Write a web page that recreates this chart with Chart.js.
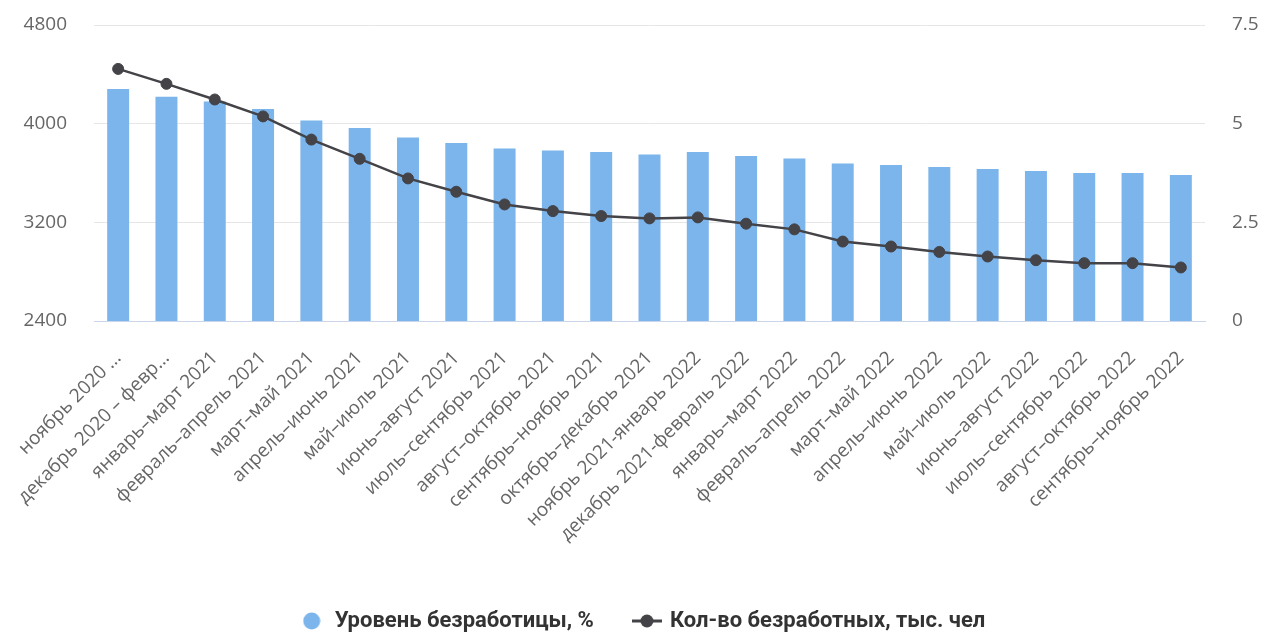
<!DOCTYPE html>
<html lang="ru">
<head>
<meta charset="utf-8">
<script src="https://cdn.jsdelivr.net/npm/chart.js@4.4.1/dist/chart.umd.min.js"></script>
<style>
    html, body { margin: 0; padding: 0; background: #fff; }
    #wrap { width: 1265px; height: 634px; position: relative; }
</style>
</head>
<body>
<div id="wrap"><canvas id="unemploymentChart" width="1265" height="634"></canvas></div>
<script>
// Безработица: уровень (%) и численность (тыс. чел), скользящие 3 месяца

const periods = [
    'ноябрь 2020 …',
    'декабрь 2020 – февр…',
    'январь–март 2021',
    'февраль–апрель 2021',
    'март–май 2021',
    'апрель–июнь 2021',
    'май–июль 2021',
    'июнь–август 2021',
    'июль–сентябрь 2021',
    'август–октябрь 2021',
    'сентябрь–ноябрь 2021',
    'октябрь–декабрь 2021',
    'ноябрь 2021-январь 2022',
    'декабрь 2021-февраль 2022',
    'январь–март 2022',
    'февраль–апрель 2022',
    'март–май 2022',
    'апрель–июнь 2022',
    'май–июль 2022',
    'июнь–август 2022',
    'июль–сентябрь 2022',
    'август–октябрь 2022',
    'сентябрь–ноябрь 2022',
];

const ratePct = [
    5.88, 5.68, 5.56, 5.37, 5.08, 4.89, 4.65, 4.51, 4.37, 4.32, 4.28, 4.22,
    4.28, 4.18, 4.12, 3.99, 3.95, 3.90, 3.85, 3.80, 3.75, 3.75, 3.70,
];

const unemployedK = [
    4444, 4323, 4196, 4059, 3871, 3715, 3556, 3448, 3345, 3291, 3251, 3232,
    3240, 3189, 3143, 3044, 3004, 2960, 2923, 2893, 2869, 2869, 2834,
];

const leftTicks  = [2400, 3200, 4000, 4800];
const rightTicks = [0, 2.5, 5, 7.5];

const COLORS = {
    bar:   '#7cb5ec',
    line:  '#434348',
    grid:  '#e6e6e6',
    axis:  '#ccd6eb',
    label: '#666666',
    legend:'#333333',
};

const FONT = '"Open Sans", "Noto Sans", sans-serif';
const LEGEND_FONT = 'Roboto, "Noto Sans", sans-serif';

// legend markers: circle for the bars, line + dot for the series line
function circleMarker() {
    const c = document.createElement('canvas');
    c.width = 18; c.height = 18;
    const g = c.getContext('2d');
    g.fillStyle = COLORS.bar;
    g.beginPath();
    g.arc(9, 9, 8.5, 0, Math.PI * 2);
    g.fill();
    return c;
}

function lineMarker() {
    const c = document.createElement('canvas');
    c.width = 30; c.height = 14;
    const g = c.getContext('2d');
    g.strokeStyle = COLORS.line;
    g.lineWidth = 3;
    g.beginPath();
    g.moveTo(0, 7);
    g.lineTo(30, 7);
    g.stroke();
    g.fillStyle = COLORS.line;
    g.beginPath();
    g.arc(15, 7, 6.5, 0, Math.PI * 2);
    g.fill();
    return c;
}

// y axes: keep label offset but drop the extra vertical padding Chart.js adds
function fixAxis(width) {
    return s => {
        s.width = width;
        s.paddingTop = 0;
        s.paddingBottom = 0;
    };
}

const ctx = document.getElementById('unemploymentChart').getContext('2d');

new Chart(ctx, {
    data: {
        labels: periods,
        datasets: [
            {
                type: 'bar',
                label: 'Уровень безработицы, %',
                data: ratePct,
                yAxisID: 'yRate',
                backgroundColor: COLORS.bar,
                borderWidth: 0,
                categoryPercentage: 1,
                barPercentage: 0.455,
                order: 2,
            },
            {
                type: 'line',
                label: 'Кол-во безработных, тыс. чел',
                data: unemployedK,
                yAxisID: 'yCount',
                borderColor: COLORS.line,
                backgroundColor: COLORS.line,
                borderWidth: 2.5,
                pointRadius: 5.5,
                pointBorderWidth: 1,
                tension: 0,
                order: 1,
            },
        ],
    },
    options: {
        responsive: false,
        animation: false,
        layout: { padding: { top: 25, left: 20, right: 0, bottom: -8 } },
        plugins: {
            tooltip: { enabled: false },
            legend: {
                position: 'bottom',
                labels: {
                    color: COLORS.legend,
                    font: { family: LEGEND_FONT, size: 22, weight: 'bold' },
                    padding: 41,
                    usePointStyle: true,
                    pointStyleWidth: 24,
                    generateLabels: chart => chart.data.datasets.map((ds, i) => ({
                        text: ds.label,
                        datasetIndex: i,
                        fontColor: COLORS.legend,
                        pointStyle: ds.type === 'bar' ? circleMarker() : lineMarker(),
                        hidden: false,
                        lineWidth: 0,
                    })),
                },
            },
        },
        scales: {
            x: {
                grid: { display: false, drawTicks: false },
                border: { display: true, color: COLORS.axis, width: 1 },
                ticks: {
                    color: COLORS.label,
                    font: { family: FONT, size: 19 },
                    minRotation: 45,
                    maxRotation: 45,
                    autoSkip: false,
                    padding: 26,
                },
                afterFit: s => {
                    s.height = 248;
                    s.paddingLeft = 0;
                    s.paddingRight = 0;
                },
            },
            yCount: {
                position: 'left',
                min: leftTicks[0],
                max: leftTicks[leftTicks.length - 1],
                afterBuildTicks: s => { s.ticks = leftTicks.map(v => ({ value: v })); },
                grid: { color: COLORS.grid, drawTicks: false, lineWidth: 1 },
                border: { display: false },
                ticks: {
                    color: COLORS.label,
                    font: { family: FONT, size: 19 },
                    padding: 27,
                    callback: v => String(v),
                },
                afterFit: fixAxis(74),
            },
            yRate: {
                position: 'right',
                min: rightTicks[0],
                max: rightTicks[rightTicks.length - 1],
                afterBuildTicks: s => { s.ticks = rightTicks.map(v => ({ value: v })); },
                grid: { display: false, drawTicks: false },
                border: { display: false },
                ticks: {
                    color: COLORS.label,
                    font: { family: FONT, size: 19 },
                    padding: 27,
                    callback: v => String(v),
                },
                afterFit: fixAxis(60),
            },
        },
    },
});
</script>
</body>
</html>
